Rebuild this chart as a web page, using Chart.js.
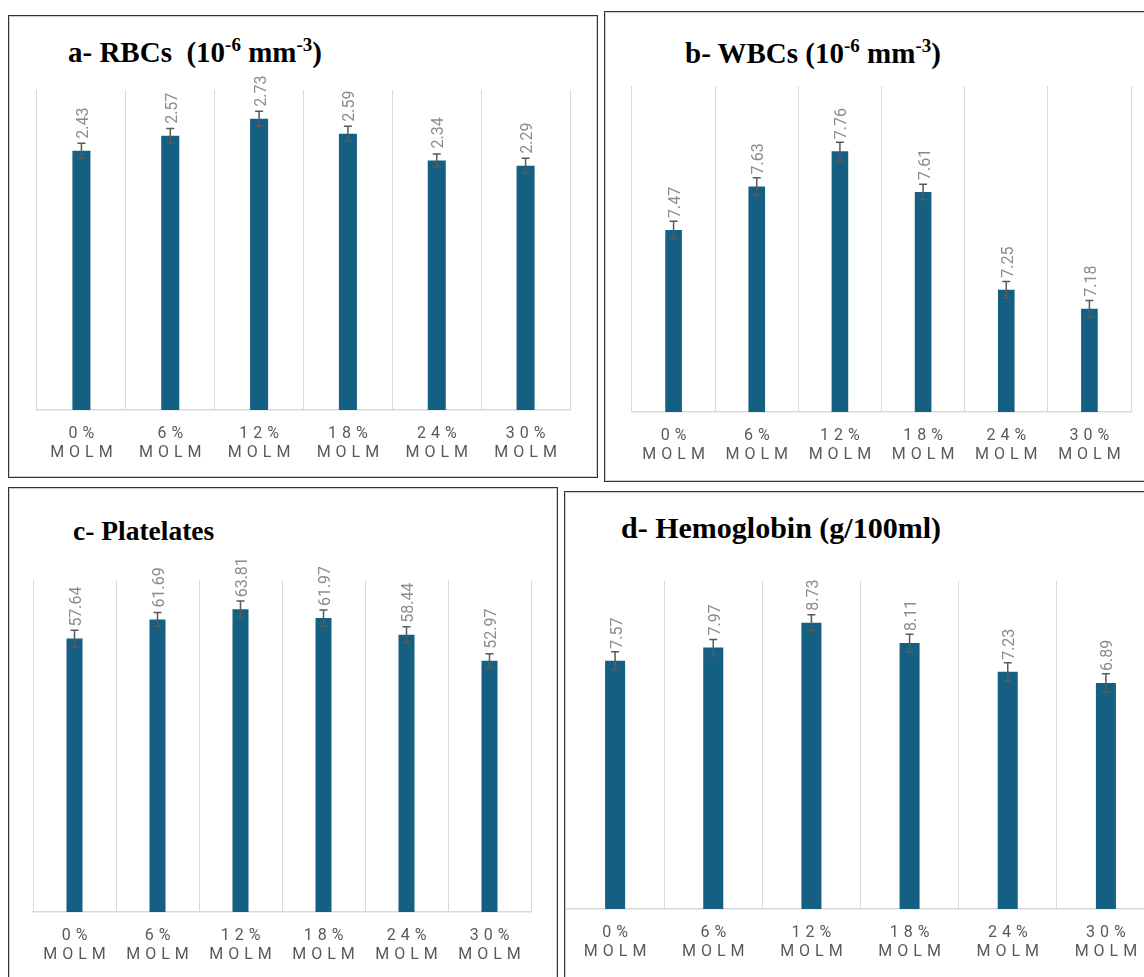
<!DOCTYPE html>
<html>
<head>
<meta charset="utf-8">
<script src="https://cdn.jsdelivr.net/npm/chart.js@4.4.1/dist/chart.umd.min.js"></script>
<style>
  html, body { margin: 0; padding: 0; background: #fff; overflow: hidden; width: 1144px; height: 977px; }
  .panel { position: absolute; border: 1px solid #333; box-shadow: inset 0 0 0 1px #cfcfcf; box-sizing: border-box; }
  .title { position: absolute; font-family: "Liberation Serif", "Times New Roman", serif; font-weight: bold; font-size: 29px; line-height: 29px; color: #000; white-space: pre; }
  .title sup { font-size: 19px; line-height: 0; vertical-align: 11px; }
  .box { position: absolute; }
</style>
</head>
<body>
<div class="panel" style="left:8px;top:15px;width:590px;height:463px;"></div>
<div class="panel" style="left:604px;top:11px;width:560px;height:471px;"></div>
<div class="panel" style="left:8px;top:487px;width:550px;height:520px;"></div>
<div class="panel" style="left:564px;top:491px;width:600px;height:520px;"></div>

<div class="title" style="left:68px;top:38px;">a- RBCs  (10<sup>-6</sup> mm<sup>-3</sup>)</div>
<div class="title" style="left:685px;top:39px;">b- WBCs (10<sup>-6</sup> mm<sup>-3</sup>)</div>
<div class="title" style="left:73px;top:516px;font-size:27.5px;">c- Platelates</div>
<div class="title" style="left:621px;top:513px;font-size:30px;">d- Hemoglobin (g/100ml)</div>

<div class="box" style="left:20px;top:60px;width:570px;height:410px;"><canvas id="chartA"></canvas></div>
<div class="box" style="left:615px;top:60px;width:525px;height:415px;"><canvas id="chartB"></canvas></div>
<div class="box" style="left:15px;top:545px;width:535px;height:432px;"><canvas id="chartC"></canvas></div>
<div class="box" style="left:566px;top:545px;width:600px;height:432px;"><canvas id="chartD"></canvas></div>

<script>
// categories
const doses = ["0%", "6%", "12%", "18%", "24%", "30%"];
const groupName = "MOLM";

// a- RBCs
const rbcValues = [2.43, 2.57, 2.73, 2.59, 2.34, 2.29];
const rbcErrors = [0.07, 0.07, 0.07, 0.07, 0.06, 0.07];
const rbcRange = [0, 3];

// b- WBCs
const wbcValues = [7.47, 7.63, 7.76, 7.61, 7.25, 7.18];
const wbcErrors = [0.032, 0.032, 0.033, 0.028, 0.03, 0.03];
const wbcRange = [6.8, 8];

// c- Platelates
const plateletValues = [57.64, 61.69, 63.81, 61.97, 58.44, 52.97];
const plateletErrors = [1.75, 1.45, 1.75, 1.7, 1.7, 1.5];
const plateletRange = [0, 70];

// d- Hemoglobin
const hbValues = [7.57, 7.97, 8.73, 8.11, 7.23, 6.89];
const hbErrors = [0.27, 0.25, 0.24, 0.27, 0.28, 0.28];
const hbRange = [0, 10];

const barColor = "#156082";
const gridColor = "#d9d9d9";

// spaced out category letters, only while the axes are painted
const letterSpacingPlugin = {
    id: "letterSpacing",
    beforeDraw(chart) { chart.ctx.letterSpacing = "5px"; },
    beforeDatasetsDraw(chart) { chart.ctx.letterSpacing = "0px"; }
};

// error bars + rotated value labels
const errorLabelPlugin = {
    id: "errorLabels",
    afterDatasetsDraw(chart) {
        const ctx = chart.ctx;
        const yScale = chart.scales.y;
        const ds = chart.data.datasets[0];
        const meta = chart.getDatasetMeta(0);
        meta.data.forEach((bar, i) => {
            const v = ds.data[i];
            const e = ds.errors[i];
            const yTop = yScale.getPixelForValue(v + e);
            const yBot = yScale.getPixelForValue(v - e);
            ctx.save();
            ctx.strokeStyle = "#595959";
            ctx.lineWidth = 1.5;
            ctx.beginPath();
            ctx.moveTo(bar.x, yTop); ctx.lineTo(bar.x, yBot);
            ctx.moveTo(bar.x - 4, yTop); ctx.lineTo(bar.x + 4, yTop);
            ctx.moveTo(bar.x - 4, yBot); ctx.lineTo(bar.x + 4, yBot);
            ctx.stroke();

            ctx.translate(bar.x + 2.5, bar.y - 12);
            ctx.rotate(-Math.PI / 2);
            ctx.fillStyle = "#8c8c8c";
            ctx.font = "16px Roboto, 'Liberation Sans', sans-serif";
            ctx.textAlign = "left";
            ctx.textBaseline = "middle";
            ctx.fillText(v.toFixed(2), 0, 0);
            ctx.restore();
        });
    }
};

function makeChart(id, values, errors, range, barPct, pad) {
    const ctx = document.getElementById(id).getContext("2d");
    return new Chart(ctx, {
        type: "bar",
        data: {
            labels: doses.map(d => [d, groupName]),
            datasets: [{
                data: values,
                errors: errors,
                backgroundColor: barColor,
                borderWidth: 0,
                barPercentage: barPct,
                categoryPercentage: 1
            }]
        },
        options: {
            responsive: true,
            maintainAspectRatio: false,
            animation: false,
            layout: { padding: pad },
            plugins: {
                legend: { display: false },
                tooltip: { enabled: false }
            },
            scales: {
                x: {
                    grid: { color: gridColor, lineWidth: 1, drawTicks: false, offset: true },
                    border: { color: gridColor, width: 1.5 },
                    ticks: {
                        color: "#595959",
                        font: { family: "Roboto", size: 16, lineHeight: 1.2 },
                        padding: 14,
                        labelOffset: 2.5,
                        maxRotation: 0,
                        autoSkip: false
                    },
                    afterFit(scale) { scale.height = 50; }
                },
                y: {
                    display: false,
                    min: range[0],
                    max: range[1]
                }
            }
        },
        plugins: [letterSpacingPlugin, errorLabelPlugin]
    });
}

makeChart("chartA", rbcValues, rbcErrors, rbcRange, 0.203, { left: 17, right: 20, top: 30, bottom: 10 });
makeChart("chartB", wbcValues, wbcErrors, wbcRange, 0.2, { left: 17, right: 9, top: 26, bottom: 13 });
makeChart("chartC", plateletValues, plateletErrors, plateletRange, 0.193, { left: 18, right: 19, top: 35, bottom: 15 });
makeChart("chartD", hbValues, hbErrors, hbRange, 0.204, { left: 0, right: 11, top: 36, bottom: 18 });
</script>
</body>
</html>
